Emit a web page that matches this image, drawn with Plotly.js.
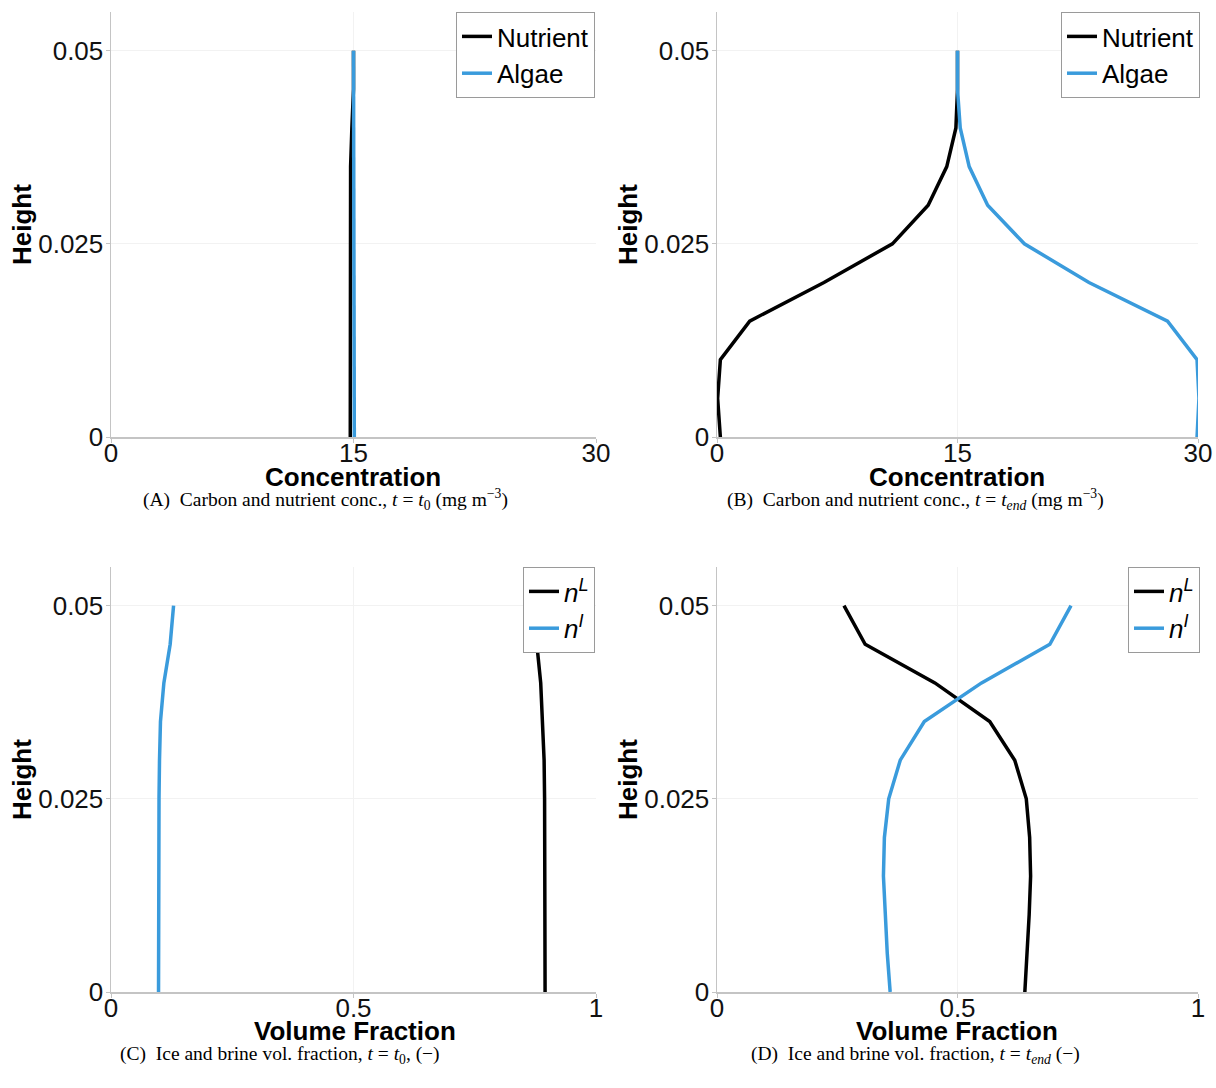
<!DOCTYPE html>
<html>
<head>
<meta charset="utf-8">
<script src="https://cdn.plot.ly/plotly-3.0.1.min.js"></script>
<style>html,body{margin:0;padding:0;background:#fff;}#chart{width:1216px;height:1088px;}</style>
</head>
<body>
<div id="chart"></div>
<script>
// ---- data ----
const heights = [0, 0.005, 0.01, 0.015, 0.02, 0.025, 0.03, 0.035, 0.04, 0.045, 0.05];
const nutrientT0 = [14.8, 14.8, 14.8, 14.8, 14.8, 14.8, 14.8, 14.82, 14.9, 15.0, 15.0];
const algaeT0 = [15.05, 15.05, 15.05, 15.05, 15.05, 15.05, 15.05, 15.05, 15.02, 15.0, 15.0];
const nutrientTend = [0.21, 0.04, 0.21, 2.04, 6.67, 10.94, 13.17, 14.33, 14.9, 15.0, 15.0];
const algaeTend = [29.94, 30.06, 29.94, 28.1, 23.2, 19.17, 16.88, 15.73, 15.17, 15.0, 15.0];
const brineT0 = [0.895, 0.895, 0.895, 0.895, 0.894, 0.894, 0.893, 0.89, 0.886, 0.878, 0.868];
const iceT0 = [0.098, 0.098, 0.098, 0.098, 0.099, 0.099, 0.1, 0.102, 0.109, 0.122, 0.129];
const brineTend = [0.640, 0.645, 0.649, 0.652, 0.650, 0.643, 0.619, 0.567, 0.453, 0.308, 0.264];
const iceTend = [0.360, 0.354, 0.350, 0.346, 0.348, 0.357, 0.381, 0.431, 0.550, 0.692, 0.736];

const concTicks = [0, 15, 30];
const concTickText = ['0', '15', '30'];
const fracTicks = [0, 0.5, 1];
const fracTickText = ['0', '0.5', '1'];
const heightTicks = [0, 0.025, 0.05];
const heightTickText = ['0', '0.025', '0.05'];

const seriesNames = ['Nutrient', 'Algae', '<i>n<sup>L</sup></i>', '<i>n<sup>I</sup></i>'];
const xTitles = ['Concentration', 'Volume Fraction'];
const yTitle = 'Height';
const captions = [
  '(A)  Carbon and nutrient conc., <i>t</i> = <i>t</i><sub>0</sub> (mg m<sup>−3</sup>)',
  '(B)  Carbon and nutrient conc., <i>t</i> = <i>t<sub>end</sub></i> (mg m<sup>−3</sup>)',
  '(C)  Ice and brine vol. fraction, <i>t</i> = <i>t</i><sub>0</sub>, (−)',
  '(D)  Ice and brine vol. fraction, <i>t</i> = <i>t<sub>end</sub></i> (−)'
];

// ---- styling ----
const W = 1216, H = 1088;
const BLACK = '#000000', BLUE = '#3a9bdc';
const FONT = 'Liberation Sans, Arial, sans-serif';
const px = v => v / W;
const py = v => 1 - v / H;

function line(x, name, color, xa, ya, leg) {
  return {x: x, y: heights, type: 'scatter', mode: 'lines', name: name,
    line: {color: color, width: 3.5}, xaxis: xa, yaxis: ya, legend: leg, hoverinfo: 'skip'};
}

const traces = [
  line(nutrientT0, seriesNames[0], BLACK, 'x', 'y', 'legend'),
  line(algaeT0, seriesNames[1], BLUE, 'x', 'y', 'legend'),
  line(nutrientTend, seriesNames[0], BLACK, 'x2', 'y2', 'legend2'),
  line(algaeTend, seriesNames[1], BLUE, 'x2', 'y2', 'legend2'),
  line(brineT0, seriesNames[2], BLACK, 'x3', 'y3', 'legend3'),
  line(iceT0, seriesNames[3], BLUE, 'x3', 'y3', 'legend3'),
  line(brineTend, seriesNames[2], BLACK, 'x4', 'y4', 'legend4'),
  line(iceTend, seriesNames[3], BLUE, 'x4', 'y4', 'legend4')
];

const colLeft = [111, 596], colRight = [717, 1198];
const rowTop = [12, 437], rowBottom = [567, 992];
const tickFont = {family: FONT, size: 26, color: '#111'};

function xaxis(dom, ya, vals, txt, range) {
  return {domain: [px(dom[0]), px(dom[1])], anchor: ya, range: range,
    tickvals: vals, ticktext: txt, ticks: 'outside', ticklen: 4, tickcolor: '#c4c4c4',
    ticklabelstandoff: -12,
    showline: true, linecolor: '#c4c4c4', linewidth: 1.5, showgrid: true, gridcolor: '#f2f2f2',
    zeroline: false, tickfont: tickFont, fixedrange: true};
}
function yaxis(dom, xa) {
  return {domain: [py(dom[1]), py(dom[0])], anchor: xa, range: [0, 0.055],
    tickvals: heightTicks, ticktext: heightTickText, ticks: 'outside', ticklen: 4, tickcolor: '#c4c4c4',
    ticklabelstandoff: -3,
    showline: true, linecolor: '#c4c4c4', linewidth: 1.5, showgrid: true, gridcolor: '#f2f2f2',
    zeroline: false, tickfont: tickFont, fixedrange: true};
}
function legend(xr, yt) {
  return {x: px(xr), y: py(yt), xanchor: 'right', yanchor: 'top', bgcolor: '#fff',
    bordercolor: '#9a9a9a', borderwidth: 1, font: {family: FONT, size: 26, color: '#000'},
    itemwidth: 30, tracegroupgap: 0};
}

const annotations = [];
function txt(x, y, text, opts) {
  annotations.push(Object.assign({x: px(x), y: py(y), xref: 'paper', yref: 'paper', text: text,
    showarrow: false, xanchor: 'center', yanchor: 'middle'}, opts));
}
const boldFont = {family: FONT, size: 26, color: '#000', weight: 'bold'};
const capFont = {family: 'Liberation Serif, Times New Roman, serif', size: 19.5, color: '#000'};
txt(353, 477, '<b>' + xTitles[0] + '</b>', {font: boldFont});
txt(957, 477, '<b>' + xTitles[0] + '</b>', {font: boldFont});
txt(355, 1031, '<b>' + xTitles[1] + '</b>', {font: boldFont});
txt(957, 1031, '<b>' + xTitles[1] + '</b>', {font: boldFont});
txt(22, 225, '<b>' + yTitle + '</b>', {font: boldFont, textangle: -90});
txt(628, 225, '<b>' + yTitle + '</b>', {font: boldFont, textangle: -90});
txt(22, 780, '<b>' + yTitle + '</b>', {font: boldFont, textangle: -90});
txt(628, 780, '<b>' + yTitle + '</b>', {font: boldFont, textangle: -90});
txt(325, 499, captions[0], {font: capFont});
txt(915, 499, captions[1], {font: capFont});
txt(280, 1055, captions[2], {font: capFont});
txt(915, 1055, captions[3], {font: capFont});

const layout = {
  width: W, height: H, margin: {l: 0, r: 0, t: 0, b: 0},
  paper_bgcolor: '#fff', plot_bgcolor: '#fff', showlegend: true,
  xaxis: xaxis(colLeft, 'y', concTicks, concTickText, [0, 30]),
  yaxis: yaxis(rowTop, 'x'),
  xaxis2: xaxis(colRight, 'y2', concTicks, concTickText, [0, 30]),
  yaxis2: yaxis(rowTop, 'x2'),
  xaxis3: xaxis(colLeft, 'y3', fracTicks, fracTickText, [0, 1]),
  yaxis3: yaxis(rowBottom, 'x3'),
  xaxis4: xaxis(colRight, 'y4', fracTicks, fracTickText, [0, 1]),
  yaxis4: yaxis(rowBottom, 'x4'),
  legend: legend(595, 12),
  legend2: legend(1200, 12),
  legend3: legend(595, 567),
  legend4: legend(1200, 567),
  annotations: annotations
};

Plotly.newPlot('chart', traces, layout, {staticPlot: true, displayModeBar: false});
</script>
</body>
</html>
